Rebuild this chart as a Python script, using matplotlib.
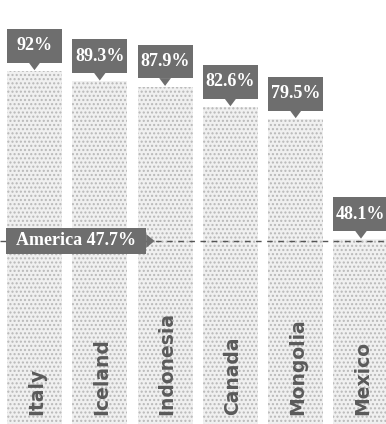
import matplotlib
matplotlib.use('Agg')
import matplotlib.pyplot as plt
from matplotlib.patches import Rectangle, Polygon
import numpy as np

# data
countries = ['Italy', 'Iceland', 'Indonesia', 'Canada', 'Mongolia', 'Mexico']
values = [92.0, 89.3, 87.9, 82.6, 79.5, 48.1]
value_labels = ['92%', '89.3%', '87.9%', '82.6%', '79.5%', '48.1%']
ref_name = 'America'
ref_value = 47.7
ref_label = 'America 47.7%'

BAR_FACE = '#f0f0f0'
BAR_DOTS = '#b8b8b8'
BOX_COLOR = '#6e6e6e'
NAME_COLOR = '#5a5a5a'

fig = plt.figure(figsize=(3.86, 4.24), dpi=100)
ax = fig.add_axes([0, 0, 1, 1])
ax.set_xlim(-0.528, 5.383)
ax.set_ylim(0, 110.5)
ax.axis('off')

x = np.arange(len(countries))
w = 0.842
ax.bar(x, values, width=w, color=BAR_FACE, edgecolor=BAR_DOTS, hatch='....',
       linewidth=0, zorder=1)

# value callouts above each bar
box_h = 8.8
tip = 2.2
for i, v in enumerate(values):
    ax.add_patch(Rectangle((i - w / 2, v + tip), w, box_h, color=BOX_COLOR, lw=0, zorder=3))
    ax.add_patch(Polygon([[i - 0.09, v + tip + 0.05], [i + 0.09, v + tip + 0.05], [i, v + 0.2]],
                         closed=True, color=BOX_COLOR, lw=0, zorder=3))
    ax.text(i, v + tip + box_h / 2, value_labels[i], color='white', fontsize=13,
            fontweight='bold', family='Liberation Serif', ha='center', va='center', zorder=4)

# country names at the bottom
for i, name in enumerate(countries):
    ax.text(i + 0.03, 2.3, name, rotation=90, ha='center', va='bottom', color=NAME_COLOR,
            fontsize=13.5, fontweight='bold', family='DejaVu Sans', zorder=2)

# reference line
ax.axhline(ref_value, color='#555555', lw=1.0, ls=(0, (4, 4)), zorder=2)
left, right = -0.43, 1.71
h = 6.8
ax.add_patch(Rectangle((left, ref_value - h / 2), right - left, h, color=BOX_COLOR, lw=0, zorder=3))
ax.add_patch(Polygon([[right, ref_value - 1.8], [right, ref_value + 1.8], [right + 0.13, ref_value]],
                     closed=True, color=BOX_COLOR, lw=0, zorder=3))
ax.text((left + right) / 2, ref_value, ref_label, color='white', fontsize=13,
        fontweight='bold', family='Liberation Serif', ha='center', va='center', zorder=4)

fig.savefig('out.png', dpi=100)
